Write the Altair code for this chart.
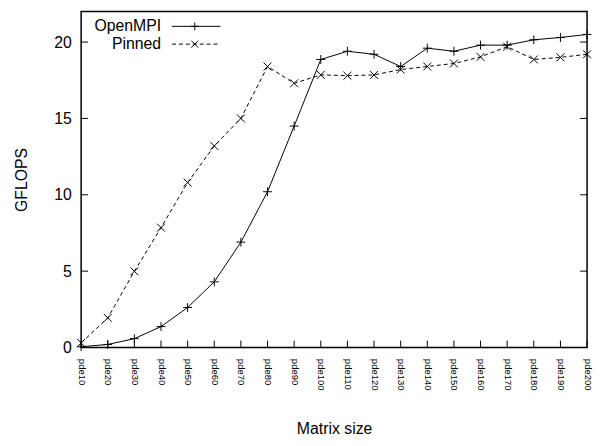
import altair as alt
import pandas as pd

sizes = ["pde10", "pde20", "pde30", "pde40", "pde50", "pde60", "pde70",
         "pde80", "pde90", "pde100", "pde110", "pde120", "pde130", "pde140",
         "pde150", "pde160", "pde170", "pde180", "pde190", "pde200"]
openmpi = [0.05, 0.2, 0.58, 1.37, 2.62, 4.3, 6.9, 10.2, 14.5, 18.86,
           19.4, 19.2, 18.4, 19.6, 19.4, 19.8, 19.8, 20.15, 20.3, 20.5]
pinned = [0.3, 1.94, 4.99, 7.85, 10.8, 13.2, 15.0, 18.4, 17.3, 17.85,
          17.8, 17.85, 18.2, 18.4, 18.6, 19.03, 19.7, 18.86, 19.0, 19.2]
y_ticks = [0, 5, 10, 15, 20]
series = ["OpenMPI", "Pinned"]

W, H = 512, 340
FONT = "Liberation Sans"
PLUS = "M-1,0L1,0M0,-1L0,1"
CROSS = "M-1,-1L1,1M-1,1L1,-1"

df_o = pd.DataFrame({"size": sizes, "gflops": openmpi})
df_p = pd.DataFrame({"size": sizes, "gflops": pinned})

xscale = alt.Scale(type="point", domain=sizes, padding=0)
yscale = alt.Scale(domain=[0, 22], nice=False, zero=True)

x_axis = alt.Axis(title="Matrix size", labelAngle=90, labelAlign="left",
                  labelBaseline="middle", labelFontSize=9.6, labelPadding=11,
                  labelFont=FONT, labelColor="black",
                  ticks=False, domain=False, grid=False,
                  titleFont=FONT, titleFontSize=16, titleFontWeight="normal",
                  titleColor="black", titlePadding=31)
y_axis = alt.Axis(title="GFLOPS", values=y_ticks, labelFontSize=16,
                  labelFont=FONT, labelColor="black", labelPadding=10,
                  ticks=False, domain=False, grid=False,
                  titleFont=FONT, titleFontSize=16, titleFontWeight="normal",
                  titleColor="black", titlePadding=24)
X = alt.X("size:O", scale=xscale, sort=sizes, axis=x_axis)
Y = alt.Y("gflops:Q", scale=yscale, axis=y_axis)

line_o = alt.Chart(df_o).mark_line(color="black", strokeWidth=1).encode(x=X, y=Y)
pts_o = alt.Chart(df_o).mark_point(shape=PLUS, size=81, color="black", filled=False,
                                   strokeWidth=1, opacity=1).encode(x=X, y=Y)
line_p = alt.Chart(df_p).mark_line(color="black", strokeWidth=1,
                                   strokeDash=[4, 3]).encode(x=X, y=Y)
pts_p = alt.Chart(df_p).mark_point(shape=CROSS, size=64, color="black", filled=False,
                                   strokeWidth=1, opacity=1).encode(x=X, y=Y)

# inward tick marks
df_yt = pd.DataFrame({"gflops": y_ticks})
df_xt = pd.DataFrame({"size": sizes})
yt_left = alt.Chart(df_yt).mark_rule(color="black", strokeWidth=1).encode(
    y=Y, x=alt.value(0), x2=alt.value(7))
yt_right = alt.Chart(df_yt).mark_rule(color="black", strokeWidth=1).encode(
    y=Y, x=alt.value(W - 7), x2=alt.value(W))
xt = alt.Chart(df_xt).mark_rule(color="black", strokeWidth=1).encode(
    x=X, y=alt.value(H), y2=alt.value(H - 7))

# legend (gnuplot style: label left, sample right)
legend_layers = []
rows = [(series[0], 15, None, PLUS, 64), (series[1], 33, [4, 3], CROSS, 50)]
for name, yy, dash, shape, sz in rows:
    d = pd.DataFrame({"label": [name]})
    legend_layers.append(alt.Chart(d).mark_text(align="right", baseline="middle",
                                                font=FONT, fontSize=16, color="black").encode(
        x=alt.value(81), y=alt.value(yy), text="label:N"))
    rule_kw = dict(color="black", strokeWidth=1)
    if dash:
        rule_kw["strokeDash"] = dash
    legend_layers.append(alt.Chart(d).mark_rule(**rule_kw).encode(
        x=alt.value(92), x2=alt.value(141), y=alt.value(yy)))
    legend_layers.append(alt.Chart(d).mark_point(shape=shape, size=sz, color="black",
                                                 filled=False, strokeWidth=1, opacity=1).encode(
        x=alt.value(115), y=alt.value(yy)))

chart = alt.layer(line_o, line_p, pts_o, pts_p, yt_left, yt_right, xt, *legend_layers).properties(
    width=W, height=H,
    autosize=alt.AutoSizeParams(type="none"),
    padding={"left": 74, "top": 1, "right": 6, "bottom": 89},
    background="white",
).configure_view(stroke="black", strokeWidth=1.5)

chart.save("out.html", embed_options={"renderer": "svg", "actions": False})
